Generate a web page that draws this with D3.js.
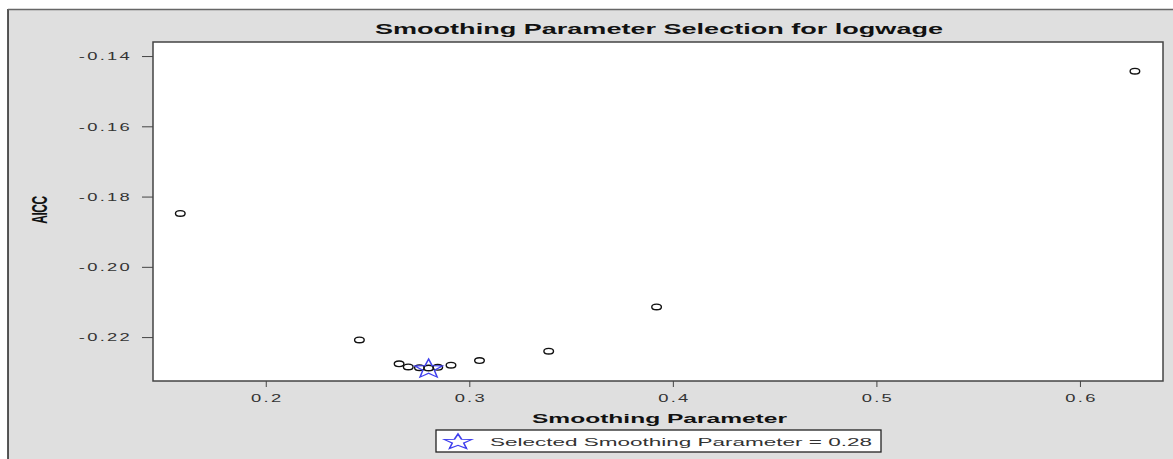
<!DOCTYPE html>
<html><head><meta charset="utf-8">
<script src="https://cdn.jsdelivr.net/npm/d3@7"></script>
<style>html,body{margin:0;padding:0;background:#fff;}svg{display:block;}</style>
</head><body>
<script>
const smoothing = [0.158, 0.246, 0.2655, 0.270, 0.2755, 0.280, 0.2845, 0.291, 0.305, 0.339, 0.392, 0.627];
const aicc = [-0.1848, -0.2208, -0.2276, -0.2285, -0.2287, -0.2288, -0.2286, -0.2280, -0.2267, -0.2240, -0.2114, -0.1443];
const selected = {x: 0.28, y: -0.2288};
const xTicks = [0.2, 0.3, 0.4, 0.5, 0.6];
const yTicks = [-0.22, -0.20, -0.18, -0.16, -0.14];
const titleText = "Smoothing Parameter Selection for logwage";
const xLabel = "Smoothing Parameter";
const yLabel = "AICC";
const legendText = "Selected Smoothing Parameter = 0.28";

const W = 1173, H = 459;
const L = 153, R = 1163, T = 42, B = 381;
const SX = 1.75;
const font = "Liberation Sans, Arial, sans-serif";

const svg = d3.select("body").append("svg").attr("width", W).attr("height", H);
svg.append("rect").attr("x", 8).attr("y", 9.5).attr("width", W - 8).attr("height", H - 9.5).attr("fill", "#dfdfdf");
svg.append("line").attr("x1", 8).attr("x2", 8).attr("y1", 9).attr("y2", H).attr("stroke", "#222").attr("stroke-width", 1.5);
svg.append("line").attr("x1", 8).attr("x2", W).attr("y1", 9.5).attr("y2", 9.5).attr("stroke", "#666").attr("stroke-width", 1.5);

const x = d3.scaleLinear().domain([0.1446, 0.6408]).range([L, R]);
const y = d3.scaleLinear().domain([-0.2325, -0.136]).range([B, T]);

svg.append("rect").attr("x", L).attr("y", T).attr("width", R - L).attr("height", B - T)
  .attr("fill", "#fff").attr("stroke", "#444").attr("stroke-width", 1.5);

// Title
svg.append("text").attr("x", 375).attr("y", 34).attr("textLength", 568).attr("lengthAdjust", "spacingAndGlyphs")
  .attr("font-family", font).attr("font-weight", "bold")
  .attr("font-size", 14).attr("fill", "#111").text(titleText);

// Y axis
const ya = svg.append("g").attr("transform", `translate(${L},0)`)
  .call(d3.axisLeft(y).tickValues(yTicks).tickSize(11).tickFormat(d3.format(".2f")));
ya.select(".domain").remove();
ya.selectAll("line").attr("stroke", "#444");
ya.selectAll("text").attr("x", 0).attr("dy", null).attr("dominant-baseline", "central")
  .attr("transform", `translate(-21,0) scale(${SX},1)`)
  .attr("font-family", font).attr("font-size", 10.5).attr("fill", "#333").attr("letter-spacing", 1.3)
  .text(d => d3.format(".2f")(d).replace("−", "-"));

// X axis
const xa = svg.append("g").attr("transform", `translate(0,${B})`)
  .call(d3.axisBottom(x).tickValues(xTicks).tickSize(6).tickFormat(d3.format(".1f")));
xa.select(".domain").remove();
xa.selectAll("line").attr("stroke", "#444");
xa.selectAll("text").attr("y", 0).attr("dy", null)
  .attr("transform", `translate(1,21) scale(${SX},1)`)
  .attr("font-family", font).attr("font-size", 10.5).attr("fill", "#333").attr("letter-spacing", 1.3);

// Axis labels
svg.append("text").attr("x", 532).attr("y", 423).attr("textLength", 255).attr("lengthAdjust", "spacingAndGlyphs")
  .attr("font-family", font).attr("font-weight", "bold")
  .attr("font-size", 13).attr("fill", "#111").text(xLabel);
svg.append("text").attr("transform", `translate(47,210) scale(1.9,1) rotate(-90)`)
  .attr("text-anchor", "middle").attr("font-family", font).attr("font-weight", "bold")
  .attr("font-size", 12).attr("fill", "#111").attr("letter-spacing", -0.5).text(yLabel);

// Points
svg.append("g").selectAll("ellipse").data(smoothing.map((s, i) => [s, aicc[i]])).join("ellipse")
  .attr("cx", d => x(d[0])).attr("cy", d => y(d[1])).attr("rx", 4.8).attr("ry", 2.8)
  .attr("fill", "none").attr("stroke", "#111").attr("stroke-width", 1.4);

function starPath(r) {
  const pts = [];
  for (let i = 0; i < 10; i++) {
    const a = -Math.PI / 2 + i * Math.PI / 5;
    const rr = i % 2 === 0 ? r : r * 0.42;
    pts.push([rr * Math.cos(a), rr * Math.sin(a)]);
  }
  return "M" + pts.map(p => p.join(",")).join("L") + "Z";
}
svg.append("path").attr("d", starPath(10))
  .attr("transform", `translate(${x(selected.x)},${y(selected.y) + 1}) scale(1.45,1)`)
  .attr("fill", "none").attr("stroke", "#4040ee").attr("stroke-width", 1.1);

// Legend
svg.append("rect").attr("x", 436).attr("y", 430).attr("width", 445).attr("height", 22)
  .attr("fill", "#fff").attr("stroke", "#222").attr("stroke-width", 1.3);
svg.append("path").attr("d", starPath(8))
  .attr("transform", `translate(458,442) scale(1.8,1)`)
  .attr("fill", "none").attr("stroke", "#4040ee").attr("stroke-width", 1);
svg.append("text").attr("x", 490).attr("y", 446).attr("textLength", 382).attr("lengthAdjust", "spacingAndGlyphs")
  .attr("font-family", font).attr("font-size", 11.5).attr("fill", "#333").text(legendText);
</script>
</body></html>
